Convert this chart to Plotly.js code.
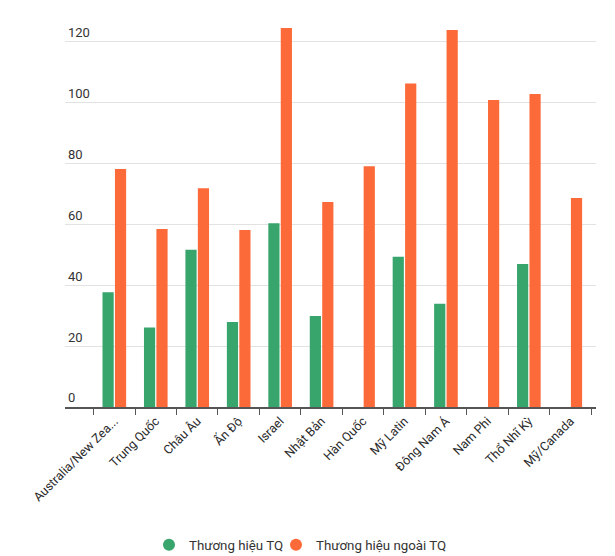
<!DOCTYPE html>
<html>
<head>
<meta charset="utf-8">
<script src="https://cdn.plot.ly/plotly-3.0.1.min.js"></script>
<style>html,body{margin:0;padding:0;background:#fff;}#chart{width:615px;height:556px;}</style>
</head>
<body>
<div id="chart"></div>
<script>
const categories = ["Australia/New Zea...", "Trung Quốc", "Châu Âu", "Ấn Độ", "Israel", "Nhật Bản", "Hàn Quốc", "Mỹ Latin", "Đông Nam Á", "Nam Phi", "Thổ Nhĩ Kỳ", "Mỹ/Canada"];
const chineseBrands = [37.7, 26.1, 51.7, 27.9, 60.4, 29.9, null, 49.4, 33.9, null, 47.0, null];
const foreignBrands = [78.2, 58.5, 71.9, 58.2, 124.6, 67.4, 79.1, 106.3, 123.9, 100.9, 102.9, 68.7];
const seriesNames = ["Thương hiệu TQ", "Thương hiệu ngoài TQ"];
const seriesColors = ["#38a56d", "#fb6a38"];
const yTicks = [0, 20, 40, 60, 80, 100, 120];

const traces = [
  {type: "bar", x: categories, y: chineseBrands, name: seriesNames[0], marker: {color: seriesColors[0]}, showlegend: false, hoverinfo: "x+y"},
  {type: "bar", x: categories, y: foreignBrands, name: seriesNames[1], marker: {color: seriesColors[1]}, showlegend: false, hoverinfo: "x+y"},
  {type: "scatter", mode: "markers", x: [null], y: [null], name: seriesNames[0], legend: "legend", marker: {color: seriesColors[0], size: 13, symbol: "circle"}},
  {type: "scatter", mode: "markers", x: [null], y: [null], name: seriesNames[1], legend: "legend2", marker: {color: seriesColors[1], size: 13, symbol: "circle"}}
];

const legendBase = {
  orientation: "h",
  xref: "container", yref: "container",
  xanchor: "left",
  y: 1 - 545/556, yanchor: "middle",
  font: {size: 13.3, color: "#333"},
  itemsizing: "constant",
  bgcolor: "rgba(0,0,0,0)"
};

const layout = {
  width: 615, height: 556,
  margin: {l: 65, r: 19, t: 20, b: 149},
  paper_bgcolor: "#fff", plot_bgcolor: "#fff",
  font: {family: "Roboto, sans-serif", color: "#333", size: 13},
  barmode: "group",
  bargap: 0.4,
  bargroupgap: 0.1,
  xaxis: {
    type: "category",
    range: [-1.19, 11.62],
    showgrid: false,
    showline: true, linecolor: "#555", linewidth: 2,
    ticks: "outside", tickson: "boundaries", ticklen: 6, tickcolor: "#555", tickwidth: 1,
    tickangle: -45,
    tickfont: {size: 12.5, color: "#2a2a2a"},
    zeroline: false,
    fixedrange: true
  },
  yaxis: {
    range: [0, 127.2],
    tickvals: yTicks,
    showgrid: true, gridcolor: "#e2e2e2", gridwidth: 1,
    zeroline: false,
    showline: false,
    ticks: "",
    ticklabelposition: "inside top",
    tickfont: {size: 13, color: "#333"},
    fixedrange: true
  },
  showlegend: true,
  legend: Object.assign({}, legendBase, {x: 149/615}),
  legend2: Object.assign({}, legendBase, {x: 276/615})
};

Plotly.newPlot("chart", traces, layout, {displayModeBar: false, staticPlot: true});
</script>
</body>
</html>
